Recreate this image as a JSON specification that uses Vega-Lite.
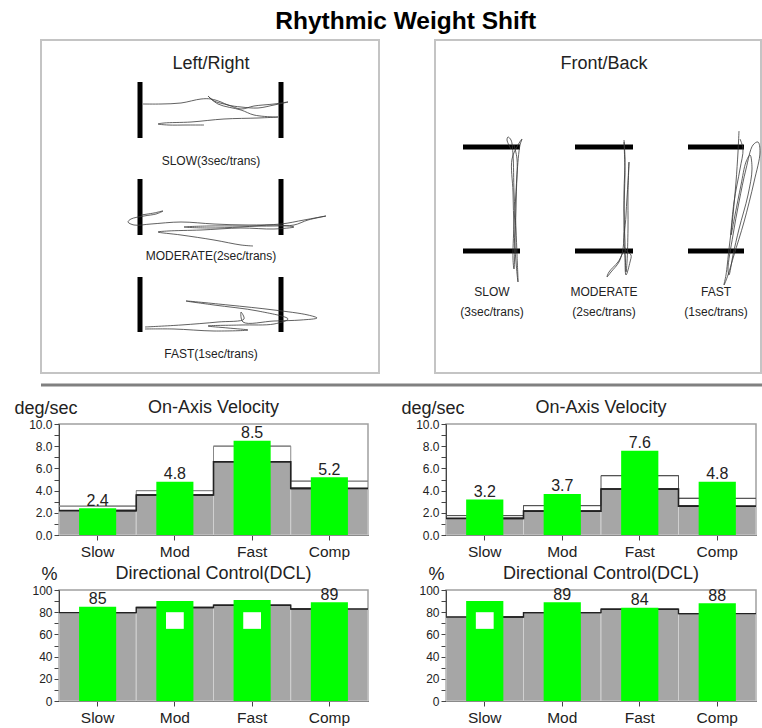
{
  "$schema": "https://vega.github.io/schema/vega-lite/v6.json",
  "background": "white",
  "padding": {"left": 13, "top": 8, "right": 0, "bottom": 0},
  "title": {"text": "Rhythmic Weight Shift", "fontSize": 24.5, "fontWeight": "bold", "color": "#000000", "anchor": "start", "frame": "bounds", "baseline": "alphabetic", "offset": -14, "dx": 262},
  "columns": 2,
  "bounds": "flush",
  "spacing": {"row": 55, "column": 78},
  "config": {
    "font": "Liberation Sans",
    "view": {"stroke": "#a0a0a0", "strokeWidth": 1.5},
    "title": {"font": "Liberation Sans", "fontSize": 18, "fontWeight": "normal", "color": "#222222"},
    "axis": {"labelFont": "Liberation Sans", "titleFont": "Liberation Sans", "grid": false, "domainColor": "#444444", "tickColor": "#444444", "labelColor": "#222222", "titleColor": "#222222"},
    "text": {"font": "Liberation Sans"}
  },
  "datasets": {
    "lrBox": [{"x": 0, "x2": 338, "y": 0, "y2": 333}],
    "sep": [{"x": 0, "x2": 721, "y": 345}],
    "lrTargets": [
      {"x": 99, "x2": 99, "y": 42, "y2": 98}, {"x": 240, "x2": 240, "y": 42, "y2": 98},
      {"x": 99, "x2": 99, "y": 139, "y2": 195}, {"x": 240, "x2": 240, "y": 139, "y2": 195},
      {"x": 99, "x2": 99, "y": 237, "y2": 292}, {"x": 240, "x2": 240, "y": 237, "y2": 292}
    ],
    "lrLabels": [
      {"label": "SLOW(3sec/trans)", "x": 170, "y": 125},
      {"label": "MODERATE(2sec/trans)", "x": 170, "y": 220},
      {"label": "FAST(1sec/trans)", "x": 170, "y": 318}
    ],
    "lrTrace": [
      {"t": "S", "i": 0, "x": 102, "y": 64}, {"t": "S", "i": 1, "x": 120, "y": 64}, {"t": "S", "i": 2, "x": 140, "y": 63}, {"t": "S", "i": 3, "x": 160, "y": 59}, {"t": "S", "i": 4, "x": 170, "y": 59}, {"t": "S", "i": 5, "x": 180, "y": 62}, {"t": "S", "i": 6, "x": 187, "y": 65}, {"t": "S", "i": 7, "x": 200, "y": 67}, {"t": "S", "i": 8, "x": 217, "y": 68}, {"t": "S", "i": 9, "x": 233, "y": 65}, {"t": "S", "i": 10, "x": 247, "y": 62}, {"t": "S", "i": 11, "x": 233, "y": 64}, {"t": "S", "i": 12, "x": 213, "y": 66}, {"t": "S", "i": 13, "x": 200, "y": 69}, {"t": "S", "i": 14, "x": 187, "y": 65}, {"t": "S", "i": 15, "x": 173, "y": 61}, {"t": "S", "i": 16, "x": 167, "y": 56}, {"t": "S", "i": 17, "x": 177, "y": 64}, {"t": "S", "i": 18, "x": 200, "y": 70}, {"t": "S", "i": 19, "x": 213, "y": 75}, {"t": "S", "i": 20, "x": 233, "y": 77}, {"t": "S", "i": 21, "x": 237, "y": 77}, {"t": "S", "i": 22, "x": 217, "y": 78}, {"t": "S", "i": 23, "x": 183, "y": 79}, {"t": "S", "i": 24, "x": 150, "y": 82}, {"t": "S", "i": 25, "x": 123, "y": 83}, {"t": "S", "i": 26, "x": 117, "y": 84}, {"t": "S", "i": 27, "x": 127, "y": 85}, {"t": "S", "i": 28, "x": 147, "y": 85}, {"t": "S", "i": 29, "x": 163, "y": 85},
      {"t": "M", "i": 0, "x": 100, "y": 175}, {"t": "M", "i": 1, "x": 113, "y": 173}, {"t": "M", "i": 2, "x": 122, "y": 171}, {"t": "M", "i": 3, "x": 115, "y": 174}, {"t": "M", "i": 4, "x": 103, "y": 176}, {"t": "M", "i": 5, "x": 90, "y": 179}, {"t": "M", "i": 6, "x": 87, "y": 182}, {"t": "M", "i": 7, "x": 93, "y": 185}, {"t": "M", "i": 8, "x": 110, "y": 184}, {"t": "M", "i": 9, "x": 140, "y": 182}, {"t": "M", "i": 10, "x": 173, "y": 184}, {"t": "M", "i": 11, "x": 207, "y": 185}, {"t": "M", "i": 12, "x": 240, "y": 184}, {"t": "M", "i": 13, "x": 263, "y": 180}, {"t": "M", "i": 14, "x": 285, "y": 176}, {"t": "M", "i": 15, "x": 267, "y": 180}, {"t": "M", "i": 16, "x": 253, "y": 185}, {"t": "M", "i": 17, "x": 233, "y": 186}, {"t": "M", "i": 18, "x": 200, "y": 186}, {"t": "M", "i": 19, "x": 167, "y": 186}, {"t": "M", "i": 20, "x": 143, "y": 187}, {"t": "M", "i": 21, "x": 167, "y": 188}, {"t": "M", "i": 22, "x": 200, "y": 187}, {"t": "M", "i": 23, "x": 233, "y": 185}, {"t": "M", "i": 24, "x": 253, "y": 187}, {"t": "M", "i": 25, "x": 233, "y": 189}, {"t": "M", "i": 26, "x": 200, "y": 188}, {"t": "M", "i": 27, "x": 160, "y": 190}, {"t": "M", "i": 28, "x": 127, "y": 191}, {"t": "M", "i": 29, "x": 117, "y": 192}, {"t": "M", "i": 30, "x": 140, "y": 195}, {"t": "M", "i": 31, "x": 173, "y": 200}, {"t": "M", "i": 32, "x": 200, "y": 205}, {"t": "M", "i": 33, "x": 212, "y": 206},
      {"t": "F", "i": 0, "x": 104, "y": 287}, {"t": "F", "i": 1, "x": 140, "y": 285}, {"t": "F", "i": 2, "x": 177, "y": 282}, {"t": "F", "i": 3, "x": 203, "y": 279}, {"t": "F", "i": 4, "x": 200, "y": 272}, {"t": "F", "i": 5, "x": 202, "y": 282}, {"t": "F", "i": 6, "x": 233, "y": 281}, {"t": "F", "i": 7, "x": 260, "y": 280}, {"t": "F", "i": 8, "x": 276, "y": 278}, {"t": "F", "i": 9, "x": 267, "y": 275}, {"t": "F", "i": 10, "x": 233, "y": 270}, {"t": "F", "i": 11, "x": 187, "y": 265}, {"t": "F", "i": 12, "x": 145, "y": 261}, {"t": "F", "i": 13, "x": 173, "y": 265}, {"t": "F", "i": 14, "x": 217, "y": 271}, {"t": "F", "i": 15, "x": 247, "y": 279}, {"t": "F", "i": 16, "x": 233, "y": 284}, {"t": "F", "i": 17, "x": 200, "y": 285}, {"t": "F", "i": 18, "x": 167, "y": 286}, {"t": "F", "i": 19, "x": 187, "y": 288}, {"t": "F", "i": 20, "x": 207, "y": 290}, {"t": "F", "i": 21, "x": 173, "y": 291}, {"t": "F", "i": 22, "x": 133, "y": 289}, {"t": "F", "i": 23, "x": 104, "y": 289}
    ],
    "fbBox": [{"x": 0, "x2": 326, "y": 0, "y2": 333}],
    "fbTargets": [
      {"x": 28, "x2": 85, "y": 107, "y2": 107}, {"x": 28, "x2": 85, "y": 211, "y2": 211},
      {"x": 140, "x2": 198, "y": 107, "y2": 107}, {"x": 140, "x2": 198, "y": 211, "y2": 211},
      {"x": 253, "x2": 309, "y": 107, "y2": 107}, {"x": 253, "x2": 309, "y": 211, "y2": 211}
    ],
    "fbLabels": [
      {"label": "SLOW", "x": 57, "y": 256}, {"label": "(3sec/trans)", "x": 57, "y": 276},
      {"label": "MODERATE", "x": 169, "y": 256}, {"label": "(2sec/trans)", "x": 169, "y": 276},
      {"label": "FAST", "x": 281, "y": 256}, {"label": "(1sec/trans)", "x": 281, "y": 276}
    ],
    "fbTrace": [
      {"t": "S", "i": 0, "x": 76, "y": 109}, {"t": "S", "i": 1, "x": 72, "y": 100}, {"t": "S", "i": 2, "x": 73, "y": 97}, {"t": "S", "i": 3, "x": 76, "y": 100}, {"t": "S", "i": 4, "x": 78, "y": 115}, {"t": "S", "i": 5, "x": 79, "y": 152}, {"t": "S", "i": 6, "x": 81, "y": 189}, {"t": "S", "i": 7, "x": 82, "y": 215}, {"t": "S", "i": 8, "x": 83, "y": 242}, {"t": "S", "i": 9, "x": 81, "y": 222}, {"t": "S", "i": 10, "x": 79, "y": 189}, {"t": "S", "i": 11, "x": 78, "y": 152}, {"t": "S", "i": 12, "x": 77, "y": 119}, {"t": "S", "i": 13, "x": 83, "y": 105}, {"t": "S", "i": 14, "x": 87, "y": 99}, {"t": "S", "i": 15, "x": 85, "y": 105}, {"t": "S", "i": 16, "x": 82, "y": 135}, {"t": "S", "i": 17, "x": 81, "y": 169}, {"t": "S", "i": 18, "x": 80, "y": 202}, {"t": "S", "i": 19, "x": 79, "y": 229}, {"t": "S", "i": 20, "x": 78, "y": 219}, {"t": "S", "i": 21, "x": 79, "y": 185}, {"t": "S", "i": 22, "x": 81, "y": 152}, {"t": "S", "i": 23, "x": 82, "y": 119}, {"t": "S", "i": 24, "x": 79, "y": 105},
      {"t": "M", "i": 0, "x": 189, "y": 100}, {"t": "M", "i": 1, "x": 190, "y": 119}, {"t": "M", "i": 2, "x": 189, "y": 152}, {"t": "M", "i": 3, "x": 189, "y": 185}, {"t": "M", "i": 4, "x": 188, "y": 209}, {"t": "M", "i": 5, "x": 184, "y": 222}, {"t": "M", "i": 6, "x": 176, "y": 232}, {"t": "M", "i": 7, "x": 172, "y": 237}, {"t": "M", "i": 8, "x": 174, "y": 232}, {"t": "M", "i": 9, "x": 183, "y": 222}, {"t": "M", "i": 10, "x": 189, "y": 212}, {"t": "M", "i": 11, "x": 191, "y": 232}, {"t": "M", "i": 12, "x": 192, "y": 222}, {"t": "M", "i": 13, "x": 193, "y": 189}, {"t": "M", "i": 14, "x": 193, "y": 152}, {"t": "M", "i": 15, "x": 194, "y": 122}, {"t": "M", "i": 16, "x": 193, "y": 142}, {"t": "M", "i": 17, "x": 191, "y": 175}, {"t": "M", "i": 18, "x": 190, "y": 209}, {"t": "M", "i": 19, "x": 196, "y": 215}, {"t": "M", "i": 20, "x": 195, "y": 222}, {"t": "M", "i": 21, "x": 191, "y": 235}, {"t": "M", "i": 22, "x": 190, "y": 202}, {"t": "M", "i": 23, "x": 189, "y": 169}, {"t": "M", "i": 24, "x": 190, "y": 135}, {"t": "M", "i": 25, "x": 189, "y": 102},
      {"t": "F", "i": 0, "x": 304, "y": 91}, {"t": "F", "i": 1, "x": 303, "y": 112}, {"t": "F", "i": 2, "x": 301, "y": 142}, {"t": "F", "i": 3, "x": 298, "y": 175}, {"t": "F", "i": 4, "x": 294, "y": 209}, {"t": "F", "i": 5, "x": 291, "y": 235}, {"t": "F", "i": 6, "x": 289, "y": 245}, {"t": "F", "i": 7, "x": 293, "y": 235}, {"t": "F", "i": 8, "x": 299, "y": 215}, {"t": "F", "i": 9, "x": 309, "y": 182}, {"t": "F", "i": 10, "x": 319, "y": 142}, {"t": "F", "i": 11, "x": 325, "y": 112}, {"t": "F", "i": 12, "x": 323, "y": 102}, {"t": "F", "i": 13, "x": 318, "y": 105}, {"t": "F", "i": 14, "x": 311, "y": 129}, {"t": "F", "i": 15, "x": 304, "y": 162}, {"t": "F", "i": 16, "x": 298, "y": 195}, {"t": "F", "i": 17, "x": 293, "y": 229}, {"t": "F", "i": 18, "x": 294, "y": 235}, {"t": "F", "i": 19, "x": 298, "y": 215}, {"t": "F", "i": 20, "x": 304, "y": 189}, {"t": "F", "i": 21, "x": 313, "y": 155}, {"t": "F", "i": 22, "x": 317, "y": 129}, {"t": "F", "i": 23, "x": 315, "y": 115}, {"t": "F", "i": 24, "x": 311, "y": 122}, {"t": "F", "i": 25, "x": 306, "y": 145}, {"t": "F", "i": 26, "x": 300, "y": 175}, {"t": "F", "i": 27, "x": 296, "y": 195}, {"t": "F", "i": 28, "x": 299, "y": 162}, {"t": "F", "i": 29, "x": 305, "y": 129}, {"t": "F", "i": 30, "x": 308, "y": 109}, {"t": "F", "i": 31, "x": 305, "y": 99}
    ],
    "velL": [
      {"cond": "Slow", "value": 2.4, "gray": 2.2, "norm": 2.6},
      {"cond": "Mod", "value": 4.8, "gray": 3.6, "norm": 4.0},
      {"cond": "Fast", "value": 8.5, "gray": 6.6, "norm": 8.0},
      {"cond": "Comp", "value": 5.2, "gray": 4.2, "norm": 4.85}
    ],
    "velR": [
      {"cond": "Slow", "value": 3.2, "gray": 1.5, "norm": 1.75},
      {"cond": "Mod", "value": 3.7, "gray": 2.15, "norm": 2.65},
      {"cond": "Fast", "value": 7.6, "gray": 4.15, "norm": 5.35},
      {"cond": "Comp", "value": 4.8, "gray": 2.6, "norm": 3.3}
    ],
    "dclL": [
      {"cond": "Slow", "value": 85, "gray": 79.6, "flag": false},
      {"cond": "Mod", "value": 90, "gray": 84.2, "flag": true},
      {"cond": "Fast", "value": 91, "gray": 86.2, "flag": true},
      {"cond": "Comp", "value": 89, "gray": 82.9, "flag": false}
    ],
    "dclR": [
      {"cond": "Slow", "value": 90, "gray": 75.7, "flag": true},
      {"cond": "Mod", "value": 89, "gray": 79.6, "flag": false},
      {"cond": "Fast", "value": 84, "gray": 82.6, "flag": false},
      {"cond": "Comp", "value": 88, "gray": 78.7, "flag": false}
    ]
  },
  "concat": [
    {
      "width": 309, "height": 329,
      "view": {"stroke": null},
      "title": {"text": "Left/Right", "offset": -48, "baseline": "alphabetic", "dx": -2.5},
      "encoding": {
        "x": {"field": "x", "type": "quantitative", "scale": {"domain": [18, 327], "nice": false, "zero": false}, "axis": null},
        "y": {"field": "y", "type": "quantitative", "scale": {"domain": [0, 329], "nice": false, "zero": false, "reverse": true}, "axis": null}
      },
      "layer": [
        {"data": {"name": "lrBox"}, "mark": {"type": "rect", "fill": "white", "fillOpacity": 0, "stroke": "#c4c4c4", "strokeWidth": 2}, "encoding": {"x2": {"field": "x2"}, "y2": {"field": "y2"}}},
        {"data": {"name": "sep"}, "mark": {"type": "rule", "stroke": "#808080", "strokeWidth": 3}, "encoding": {"x2": {"field": "x2"}}},
        {"data": {"name": "lrTargets"}, "mark": {"type": "rule", "stroke": "#000000", "strokeWidth": 5, "strokeCap": "butt"}, "encoding": {"x2": {"field": "x2"}, "y2": {"field": "y2"}}},
        {"data": {"name": "lrTrace"}, "mark": {"type": "line", "interpolate": "catmull-rom", "stroke": "#3a3a3a", "strokeWidth": 0.8}, "encoding": {"detail": {"field": "t"}, "order": {"field": "i", "type": "quantitative"}}},
        {"data": {"name": "lrLabels"}, "mark": {"type": "text", "fontSize": 12, "align": "center", "baseline": "alphabetic", "color": "#222222"}, "encoding": {"text": {"field": "label"}}}
      ]
    },
    {
      "width": 310, "height": 329,
      "view": {"stroke": null},
      "title": {"text": "Front/Back", "offset": -48, "baseline": "alphabetic", "dx": 3},
      "encoding": {
        "x": {"field": "x", "type": "quantitative", "scale": {"domain": [11, 321], "nice": false, "zero": false}, "axis": null},
        "y": {"field": "y", "type": "quantitative", "scale": {"domain": [0, 329], "nice": false, "zero": false, "reverse": true}, "axis": null}
      },
      "layer": [
        {"data": {"name": "fbBox"}, "mark": {"type": "rect", "fill": "white", "fillOpacity": 0, "stroke": "#c4c4c4", "strokeWidth": 2}, "encoding": {"x2": {"field": "x2"}, "y2": {"field": "y2"}}},
        {"data": {"name": "fbTargets"}, "mark": {"type": "rule", "stroke": "#000000", "strokeWidth": 5, "strokeCap": "butt"}, "encoding": {"x2": {"field": "x2"}, "y2": {"field": "y2"}}},
        {"data": {"name": "fbTrace"}, "mark": {"type": "line", "interpolate": "catmull-rom", "stroke": "#3a3a3a", "strokeWidth": 0.8}, "encoding": {"detail": {"field": "t"}, "order": {"field": "i", "type": "quantitative"}}},
        {"data": {"name": "fbLabels"}, "mark": {"type": "text", "fontSize": 12, "align": "center", "baseline": "alphabetic", "color": "#222222"}, "encoding": {"text": {"field": "label"}}}
      ]
    },
    {
      "width": 309, "height": 111,
      "title": {"text": "On-Axis Velocity", "offset": -32, "baseline": "alphabetic"},
      "data": {"name": "velL"},
      "encoding": {"x": {"field": "cond", "type": "nominal", "sort": ["Slow", "Mod", "Fast", "Comp"], "scale": {"paddingInner": 0, "paddingOuter": 0}, "axis": {"title": null, "labelAngle": 0, "labelFontSize": 15.5, "tickSize": 5, "labelPadding": 4.5}}},
      "layer": [
        {"mark": {"type": "bar", "color": "#a6a6a6", "stroke": "#d0d0d0", "strokeWidth": 1}, "encoding": {"y": {"field": "gray", "type": "quantitative", "scale": {"domain": [0, 10], "nice": false}, "axis": {"values": [0, 1, 2, 3, 4, 5, 6, 7, 8, 9, 10], "labelExpr": "datum.value % 2 === 0 ? format(datum.value, '.1f') : ''", "labelOverlap": false, "labelFontSize": 12, "tickSize": 5, "labelPadding": 2, "title": "deg/sec", "titleAngle": 0, "titleAlign": "left", "titleBaseline": "alphabetic", "titleX": -45, "titleY": -11, "titleFontSize": 18, "titleFontWeight": "normal"}}}},
        {"mark": {"type": "line", "interpolate": "step", "color": "#888888", "strokeWidth": 1}, "encoding": {"y": {"field": "norm", "type": "quantitative", "axis": {"values": [0, 1, 2, 3, 4, 5, 6, 7, 8, 9, 10], "labelExpr": "datum.value % 2 === 0 ? format(datum.value, '.1f') : ''", "labelOverlap": false, "labelFontSize": 12, "tickSize": 5, "labelPadding": 2, "title": "deg/sec", "titleAngle": 0, "titleAlign": "left", "titleBaseline": "alphabetic", "titleX": -45, "titleY": -11, "titleFontSize": 18, "titleFontWeight": "normal"}}}},
        {"mark": {"type": "bar", "fill": "white", "fillOpacity": 0, "stroke": "#888888", "strokeWidth": 1}, "encoding": {"y": {"field": "norm", "type": "quantitative", "axis": {"values": [0, 1, 2, 3, 4, 5, 6, 7, 8, 9, 10], "labelExpr": "datum.value % 2 === 0 ? format(datum.value, '.1f') : ''", "labelOverlap": false, "labelFontSize": 12, "tickSize": 5, "labelPadding": 2, "title": "deg/sec", "titleAngle": 0, "titleAlign": "left", "titleBaseline": "alphabetic", "titleX": -45, "titleY": -11, "titleFontSize": 18, "titleFontWeight": "normal"}}, "y2": {"field": "norm"}}},
        {"mark": {"type": "line", "interpolate": "step", "color": "#222222", "strokeWidth": 1.6}, "encoding": {"y": {"field": "gray", "type": "quantitative", "axis": {"values": [0, 1, 2, 3, 4, 5, 6, 7, 8, 9, 10], "labelExpr": "datum.value % 2 === 0 ? format(datum.value, '.1f') : ''", "labelOverlap": false, "labelFontSize": 12, "tickSize": 5, "labelPadding": 2, "title": "deg/sec", "titleAngle": 0, "titleAlign": "left", "titleBaseline": "alphabetic", "titleX": -45, "titleY": -11, "titleFontSize": 18, "titleFontWeight": "normal"}}}},
        {"mark": {"type": "bar", "fill": "white", "fillOpacity": 0, "stroke": "#222222", "strokeWidth": 1.6}, "encoding": {"y": {"field": "gray", "type": "quantitative", "axis": {"values": [0, 1, 2, 3, 4, 5, 6, 7, 8, 9, 10], "labelExpr": "datum.value % 2 === 0 ? format(datum.value, '.1f') : ''", "labelOverlap": false, "labelFontSize": 12, "tickSize": 5, "labelPadding": 2, "title": "deg/sec", "titleAngle": 0, "titleAlign": "left", "titleBaseline": "alphabetic", "titleX": -45, "titleY": -11, "titleFontSize": 18, "titleFontWeight": "normal"}}, "y2": {"field": "gray"}}},
        {"mark": {"type": "bar", "color": "#00ff00", "width": {"band": 0.48}}, "encoding": {"y": {"field": "value", "type": "quantitative", "axis": {"values": [0, 1, 2, 3, 4, 5, 6, 7, 8, 9, 10], "labelExpr": "datum.value % 2 === 0 ? format(datum.value, '.1f') : ''", "labelOverlap": false, "labelFontSize": 12, "tickSize": 5, "labelPadding": 2, "title": "deg/sec", "titleAngle": 0, "titleAlign": "left", "titleBaseline": "alphabetic", "titleX": -45, "titleY": -11, "titleFontSize": 18, "titleFontWeight": "normal"}}}},
        {"mark": {"type": "text", "fontSize": 16, "baseline": "alphabetic", "dy": -2.5, "color": "#222222"}, "encoding": {"y": {"field": "value", "type": "quantitative", "axis": {"values": [0, 1, 2, 3, 4, 5, 6, 7, 8, 9, 10], "labelExpr": "datum.value % 2 === 0 ? format(datum.value, '.1f') : ''", "labelOverlap": false, "labelFontSize": 12, "tickSize": 5, "labelPadding": 2, "title": "deg/sec", "titleAngle": 0, "titleAlign": "left", "titleBaseline": "alphabetic", "titleX": -45, "titleY": -11, "titleFontSize": 18, "titleFontWeight": "normal"}}, "text": {"field": "value", "type": "quantitative", "format": ".1f"}}}
      ]
    },
    {
      "width": 310, "height": 111,
      "title": {"text": "On-Axis Velocity", "offset": -32, "baseline": "alphabetic"},
      "data": {"name": "velR"},
      "encoding": {"x": {"field": "cond", "type": "nominal", "sort": ["Slow", "Mod", "Fast", "Comp"], "scale": {"paddingInner": 0, "paddingOuter": 0}, "axis": {"title": null, "labelAngle": 0, "labelFontSize": 15.5, "tickSize": 5, "labelPadding": 4.5}}},
      "layer": [
        {"mark": {"type": "bar", "color": "#a6a6a6", "stroke": "#d0d0d0", "strokeWidth": 1}, "encoding": {"y": {"field": "gray", "type": "quantitative", "scale": {"domain": [0, 10], "nice": false}, "axis": {"values": [0, 1, 2, 3, 4, 5, 6, 7, 8, 9, 10], "labelExpr": "datum.value % 2 === 0 ? format(datum.value, '.1f') : ''", "labelOverlap": false, "labelFontSize": 12, "tickSize": 5, "labelPadding": 2, "title": "deg/sec", "titleAngle": 0, "titleAlign": "left", "titleBaseline": "alphabetic", "titleX": -45, "titleY": -11, "titleFontSize": 18, "titleFontWeight": "normal"}}}},
        {"mark": {"type": "line", "interpolate": "step", "color": "#555555", "strokeWidth": 1}, "encoding": {"y": {"field": "norm", "type": "quantitative", "axis": {"values": [0, 1, 2, 3, 4, 5, 6, 7, 8, 9, 10], "labelExpr": "datum.value % 2 === 0 ? format(datum.value, '.1f') : ''", "labelOverlap": false, "labelFontSize": 12, "tickSize": 5, "labelPadding": 2, "title": "deg/sec", "titleAngle": 0, "titleAlign": "left", "titleBaseline": "alphabetic", "titleX": -45, "titleY": -11, "titleFontSize": 18, "titleFontWeight": "normal"}}}},
        {"mark": {"type": "bar", "fill": "white", "fillOpacity": 0, "stroke": "#555555", "strokeWidth": 1}, "encoding": {"y": {"field": "norm", "type": "quantitative", "axis": {"values": [0, 1, 2, 3, 4, 5, 6, 7, 8, 9, 10], "labelExpr": "datum.value % 2 === 0 ? format(datum.value, '.1f') : ''", "labelOverlap": false, "labelFontSize": 12, "tickSize": 5, "labelPadding": 2, "title": "deg/sec", "titleAngle": 0, "titleAlign": "left", "titleBaseline": "alphabetic", "titleX": -45, "titleY": -11, "titleFontSize": 18, "titleFontWeight": "normal"}}, "y2": {"field": "norm"}}},
        {"mark": {"type": "line", "interpolate": "step", "color": "#222222", "strokeWidth": 1.6}, "encoding": {"y": {"field": "gray", "type": "quantitative", "axis": {"values": [0, 1, 2, 3, 4, 5, 6, 7, 8, 9, 10], "labelExpr": "datum.value % 2 === 0 ? format(datum.value, '.1f') : ''", "labelOverlap": false, "labelFontSize": 12, "tickSize": 5, "labelPadding": 2, "title": "deg/sec", "titleAngle": 0, "titleAlign": "left", "titleBaseline": "alphabetic", "titleX": -45, "titleY": -11, "titleFontSize": 18, "titleFontWeight": "normal"}}}},
        {"mark": {"type": "bar", "fill": "white", "fillOpacity": 0, "stroke": "#222222", "strokeWidth": 1.6}, "encoding": {"y": {"field": "gray", "type": "quantitative", "axis": {"values": [0, 1, 2, 3, 4, 5, 6, 7, 8, 9, 10], "labelExpr": "datum.value % 2 === 0 ? format(datum.value, '.1f') : ''", "labelOverlap": false, "labelFontSize": 12, "tickSize": 5, "labelPadding": 2, "title": "deg/sec", "titleAngle": 0, "titleAlign": "left", "titleBaseline": "alphabetic", "titleX": -45, "titleY": -11, "titleFontSize": 18, "titleFontWeight": "normal"}}, "y2": {"field": "gray"}}},
        {"mark": {"type": "bar", "color": "#00ff00", "width": {"band": 0.48}}, "encoding": {"y": {"field": "value", "type": "quantitative", "axis": {"values": [0, 1, 2, 3, 4, 5, 6, 7, 8, 9, 10], "labelExpr": "datum.value % 2 === 0 ? format(datum.value, '.1f') : ''", "labelOverlap": false, "labelFontSize": 12, "tickSize": 5, "labelPadding": 2, "title": "deg/sec", "titleAngle": 0, "titleAlign": "left", "titleBaseline": "alphabetic", "titleX": -45, "titleY": -11, "titleFontSize": 18, "titleFontWeight": "normal"}}}},
        {"mark": {"type": "text", "fontSize": 16, "baseline": "alphabetic", "dy": -2.5, "color": "#222222"}, "encoding": {"y": {"field": "value", "type": "quantitative", "axis": {"values": [0, 1, 2, 3, 4, 5, 6, 7, 8, 9, 10], "labelExpr": "datum.value % 2 === 0 ? format(datum.value, '.1f') : ''", "labelOverlap": false, "labelFontSize": 12, "tickSize": 5, "labelPadding": 2, "title": "deg/sec", "titleAngle": 0, "titleAlign": "left", "titleBaseline": "alphabetic", "titleX": -45, "titleY": -11, "titleFontSize": 18, "titleFontWeight": "normal"}}, "text": {"field": "value", "type": "quantitative", "format": ".1f"}}}
      ]
    },
    {
      "width": 309, "height": 111,
      "title": {"text": "Directional Control(DCL)", "offset": -32, "baseline": "alphabetic"},
      "data": {"name": "dclL"},
      "encoding": {"x": {"field": "cond", "type": "nominal", "sort": ["Slow", "Mod", "Fast", "Comp"], "scale": {"paddingInner": 0, "paddingOuter": 0}, "axis": {"title": null, "labelAngle": 0, "labelFontSize": 15.5, "tickSize": 5, "labelPadding": 4.5}}},
      "layer": [
        {"mark": {"type": "bar", "color": "#a6a6a6", "stroke": "#d0d0d0", "strokeWidth": 1}, "encoding": {"y": {"field": "gray", "type": "quantitative", "scale": {"domain": [0, 100], "nice": false}, "axis": {"values": [0, 10, 20, 30, 40, 50, 60, 70, 80, 90, 100], "labelExpr": "datum.value % 20 === 0 ? datum.label : ''", "labelOverlap": false, "labelFontSize": 12, "tickSize": 5, "labelPadding": 2, "title": "%", "titleAngle": 0, "titleAlign": "left", "titleBaseline": "alphabetic", "titleX": -18, "titleY": -11, "titleFontSize": 18, "titleFontWeight": "normal"}}}},
        {"mark": {"type": "line", "interpolate": "step", "color": "#222222", "strokeWidth": 1.4}, "encoding": {"y": {"field": "gray", "type": "quantitative", "axis": {"values": [0, 10, 20, 30, 40, 50, 60, 70, 80, 90, 100], "labelExpr": "datum.value % 20 === 0 ? datum.label : ''", "labelOverlap": false, "labelFontSize": 12, "tickSize": 5, "labelPadding": 2, "title": "%", "titleAngle": 0, "titleAlign": "left", "titleBaseline": "alphabetic", "titleX": -18, "titleY": -11, "titleFontSize": 18, "titleFontWeight": "normal"}}}},
        {"mark": {"type": "bar", "fill": "white", "fillOpacity": 0, "stroke": "#222222", "strokeWidth": 1.4}, "encoding": {"y": {"field": "gray", "type": "quantitative", "axis": {"values": [0, 10, 20, 30, 40, 50, 60, 70, 80, 90, 100], "labelExpr": "datum.value % 20 === 0 ? datum.label : ''", "labelOverlap": false, "labelFontSize": 12, "tickSize": 5, "labelPadding": 2, "title": "%", "titleAngle": 0, "titleAlign": "left", "titleBaseline": "alphabetic", "titleX": -18, "titleY": -11, "titleFontSize": 18, "titleFontWeight": "normal"}}, "y2": {"field": "gray"}}},
        {"mark": {"type": "bar", "color": "#00ff00", "width": {"band": 0.48}}, "encoding": {"y": {"field": "value", "type": "quantitative", "axis": {"values": [0, 10, 20, 30, 40, 50, 60, 70, 80, 90, 100], "labelExpr": "datum.value % 20 === 0 ? datum.label : ''", "labelOverlap": false, "labelFontSize": 12, "tickSize": 5, "labelPadding": 2, "title": "%", "titleAngle": 0, "titleAlign": "left", "titleBaseline": "alphabetic", "titleX": -18, "titleY": -11, "titleFontSize": 18, "titleFontWeight": "normal"}}}},
        {"transform": [{"filter": "datum.flag"}], "mark": {"type": "bar", "color": "white", "width": {"band": 0.23}}, "encoding": {"y": {"datum": 80, "type": "quantitative", "axis": {"values": [0, 10, 20, 30, 40, 50, 60, 70, 80, 90, 100], "labelExpr": "datum.value % 20 === 0 ? datum.label : ''", "labelOverlap": false, "labelFontSize": 12, "tickSize": 5, "labelPadding": 2, "title": "%", "titleAngle": 0, "titleAlign": "left", "titleBaseline": "alphabetic", "titleX": -18, "titleY": -11, "titleFontSize": 18, "titleFontWeight": "normal"}}, "y2": {"datum": 65}}},
        {"transform": [{"filter": "!datum.flag"}], "mark": {"type": "text", "fontSize": 16, "baseline": "alphabetic", "dy": -2.5, "color": "#222222"}, "encoding": {"y": {"field": "value", "type": "quantitative", "axis": {"values": [0, 10, 20, 30, 40, 50, 60, 70, 80, 90, 100], "labelExpr": "datum.value % 20 === 0 ? datum.label : ''", "labelOverlap": false, "labelFontSize": 12, "tickSize": 5, "labelPadding": 2, "title": "%", "titleAngle": 0, "titleAlign": "left", "titleBaseline": "alphabetic", "titleX": -18, "titleY": -11, "titleFontSize": 18, "titleFontWeight": "normal"}}, "text": {"field": "value", "type": "quantitative"}}}
      ]
    },
    {
      "width": 310, "height": 111,
      "title": {"text": "Directional Control(DCL)", "offset": -32, "baseline": "alphabetic"},
      "data": {"name": "dclR"},
      "encoding": {"x": {"field": "cond", "type": "nominal", "sort": ["Slow", "Mod", "Fast", "Comp"], "scale": {"paddingInner": 0, "paddingOuter": 0}, "axis": {"title": null, "labelAngle": 0, "labelFontSize": 15.5, "tickSize": 5, "labelPadding": 4.5}}},
      "layer": [
        {"mark": {"type": "bar", "color": "#a6a6a6", "stroke": "#d0d0d0", "strokeWidth": 1}, "encoding": {"y": {"field": "gray", "type": "quantitative", "scale": {"domain": [0, 100], "nice": false}, "axis": {"values": [0, 10, 20, 30, 40, 50, 60, 70, 80, 90, 100], "labelExpr": "datum.value % 20 === 0 ? datum.label : ''", "labelOverlap": false, "labelFontSize": 12, "tickSize": 5, "labelPadding": 2, "title": "%", "titleAngle": 0, "titleAlign": "left", "titleBaseline": "alphabetic", "titleX": -18, "titleY": -11, "titleFontSize": 18, "titleFontWeight": "normal"}}}},
        {"mark": {"type": "line", "interpolate": "step", "color": "#222222", "strokeWidth": 1.4}, "encoding": {"y": {"field": "gray", "type": "quantitative", "axis": {"values": [0, 10, 20, 30, 40, 50, 60, 70, 80, 90, 100], "labelExpr": "datum.value % 20 === 0 ? datum.label : ''", "labelOverlap": false, "labelFontSize": 12, "tickSize": 5, "labelPadding": 2, "title": "%", "titleAngle": 0, "titleAlign": "left", "titleBaseline": "alphabetic", "titleX": -18, "titleY": -11, "titleFontSize": 18, "titleFontWeight": "normal"}}}},
        {"mark": {"type": "bar", "fill": "white", "fillOpacity": 0, "stroke": "#222222", "strokeWidth": 1.4}, "encoding": {"y": {"field": "gray", "type": "quantitative", "axis": {"values": [0, 10, 20, 30, 40, 50, 60, 70, 80, 90, 100], "labelExpr": "datum.value % 20 === 0 ? datum.label : ''", "labelOverlap": false, "labelFontSize": 12, "tickSize": 5, "labelPadding": 2, "title": "%", "titleAngle": 0, "titleAlign": "left", "titleBaseline": "alphabetic", "titleX": -18, "titleY": -11, "titleFontSize": 18, "titleFontWeight": "normal"}}, "y2": {"field": "gray"}}},
        {"mark": {"type": "bar", "color": "#00ff00", "width": {"band": 0.48}}, "encoding": {"y": {"field": "value", "type": "quantitative", "axis": {"values": [0, 10, 20, 30, 40, 50, 60, 70, 80, 90, 100], "labelExpr": "datum.value % 20 === 0 ? datum.label : ''", "labelOverlap": false, "labelFontSize": 12, "tickSize": 5, "labelPadding": 2, "title": "%", "titleAngle": 0, "titleAlign": "left", "titleBaseline": "alphabetic", "titleX": -18, "titleY": -11, "titleFontSize": 18, "titleFontWeight": "normal"}}}},
        {"transform": [{"filter": "datum.flag"}], "mark": {"type": "bar", "color": "white", "width": {"band": 0.23}}, "encoding": {"y": {"datum": 80, "type": "quantitative", "axis": {"values": [0, 10, 20, 30, 40, 50, 60, 70, 80, 90, 100], "labelExpr": "datum.value % 20 === 0 ? datum.label : ''", "labelOverlap": false, "labelFontSize": 12, "tickSize": 5, "labelPadding": 2, "title": "%", "titleAngle": 0, "titleAlign": "left", "titleBaseline": "alphabetic", "titleX": -18, "titleY": -11, "titleFontSize": 18, "titleFontWeight": "normal"}}, "y2": {"datum": 65}}},
        {"transform": [{"filter": "!datum.flag"}], "mark": {"type": "text", "fontSize": 16, "baseline": "alphabetic", "dy": -2.5, "color": "#222222"}, "encoding": {"y": {"field": "value", "type": "quantitative", "axis": {"values": [0, 10, 20, 30, 40, 50, 60, 70, 80, 90, 100], "labelExpr": "datum.value % 20 === 0 ? datum.label : ''", "labelOverlap": false, "labelFontSize": 12, "tickSize": 5, "labelPadding": 2, "title": "%", "titleAngle": 0, "titleAlign": "left", "titleBaseline": "alphabetic", "titleX": -18, "titleY": -11, "titleFontSize": 18, "titleFontWeight": "normal"}}, "text": {"field": "value", "type": "quantitative"}}}
      ]
    }
  ]
}
